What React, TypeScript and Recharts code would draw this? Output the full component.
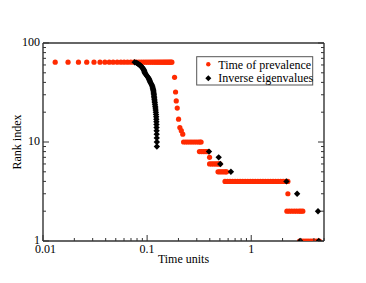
import { ScatterChart, Scatter, XAxis, YAxis } from "recharts";

// Time of prevalence: one rank level, and the times plotted on it
const prevalenceRanks = [64, 45, 32, 26, 22, 17, 14, 13, 12, 10, 8, 7, 6, 5, 4, 3, 2, 1];
const prevalenceTimes = [
  [0.0131, 0.0174, 0.0219, 0.0263, 0.0309, 0.0353, 0.0393, 0.0433, 0.0472, 0.0516, 0.056, 0.0602,
   0.0648, 0.0697, 0.0746, 0.079, 0.0835, 0.088, 0.0925, 0.097, 0.1015, 0.106, 0.1105, 0.115,
   0.1195, 0.124, 0.1285, 0.133, 0.1375, 0.142, 0.1465, 0.151, 0.1555, 0.16, 0.1645, 0.169, 0.173],
  [0.1835], [0.1876], [0.1905], [0.1947], [0.2004], [0.2063], [0.213], [0.22],
  [0.224, 0.235, 0.246, 0.258, 0.27, 0.283, 0.296, 0.31, 0.322, 0.33],
  [0.318, 0.332, 0.346, 0.36, 0.374, 0.387],
  [0.398],
  [0.398, 0.415, 0.432, 0.45, 0.468, 0.485, 0.5],
  [0.48, 0.497, 0.514, 0.532, 0.55, 0.568, 0.58],
  [0.56, 0.592, 0.626, 0.662, 0.7, 0.74, 0.783, 0.828, 0.876, 0.926, 0.98, 1.036, 1.095, 1.158,
   1.225, 1.296, 1.37, 1.449, 1.532, 1.62, 1.714, 1.812, 1.917, 2.027, 2.144, 2.25],
  [2.25],
  [2.2, 2.32, 2.45, 2.59, 2.73, 2.88, 3.0, 3.13],
  [2.91, 3.05, 3.2, 3.36, 3.52, 3.7, 3.88, 4.07, 4.28, 4.52],
];

// Inverse eigenvalues
const eigenRanks = [
  64, 63, 62, 61, 60, 59, 58, 57, 56, 55, 54, 53, 52, 51, 50, 49, 48, 47, 46, 45, 44, 43, 42, 41, 40,
  39, 38, 37, 36, 35, 34, 33, 32, 31, 30, 29, 28, 27, 26, 25, 24, 23, 22, 21, 20, 19, 18, 17, 16, 15,
  14, 13, 12, 11, 10, 9, 8, 7, 6, 5, 4, 3, 2, 1, 1,
];
const eigenTimes = [
  0.076, 0.079, 0.081, 0.083, 0.085, 0.0865, 0.088, 0.0895, 0.0905, 0.0915, 0.0925, 0.0932, 0.094,
  0.0945, 0.095, 0.096, 0.0975, 0.099, 0.1005, 0.102, 0.1035, 0.1045, 0.1055, 0.1065, 0.1075,
  0.109, 0.1105, 0.1115, 0.1128, 0.1135, 0.1142, 0.1148, 0.1153, 0.1158, 0.1162, 0.1166, 0.117,
  0.1175, 0.118, 0.1185, 0.119, 0.1196, 0.1202, 0.1208, 0.1213, 0.1218, 0.1223, 0.1226, 0.1228,
  0.123, 0.1232, 0.1234, 0.1236, 0.1238, 0.124, 0.1241, 0.393, 0.487, 0.505, 0.638, 2.18, 2.76,
  4.38, 2.95, 4.45,
];

const xTicks = [0.01, 0.02, 0.03, 0.04, 0.05, 0.06, 0.07, 0.08, 0.09, 0.1, 0.2, 0.3, 0.4, 0.5, 0.6,
  0.7, 0.8, 0.9, 1, 2, 3, 4, 5];
const xTickLabels: Record<string, string> = { "0.01": "0.01", "0.1": "0.1", "1": "1" };
const yTicks = [1, 2, 3, 4, 5, 6, 7, 8, 9, 10, 20, 30, 40, 50, 60, 70, 80, 90, 100];
const yTickLabels: Record<string, string> = { "1": "1", "10": "10", "100": "100" };

const RED = "#ff2a00";
const AXIS = "#333";
const FONT = "'Liberation Serif', 'Times New Roman', serif";

const prevalenceData = prevalenceRanks.flatMap((r, i) => prevalenceTimes[i].map(t => ({ t, r })));
const eigenData = eigenRanks.map((r, i) => ({ t: eigenTimes[i], r }));

const Dot = ({ cx, cy }: any) => <circle cx={cx} cy={cy} r={2.6} fill={RED} />;
const Diamond = ({ cx, cy }: any) => (
  <path d={`M${cx},${cy - 3.2}L${cx + 3.2},${cy}L${cx},${cy + 3.2}L${cx - 3.2},${cy}Z`} fill="#000" />
);

const tickText = { fontFamily: FONT, fontSize: 12, fill: "#000" };

const BottomTick = ({ x, y, payload }: any) => {
  const lab = xTickLabels[String(payload.value)];
  // first label sits a little right of its tick, as in the original
  const dx = payload.value === 0.01 ? 2.5 : 0;
  return (
    <g>
      <line x1={x} x2={x} y1={y} y2={y - (lab ? 6 : 3)} stroke={AXIS} />
      {lab && <text x={x + dx} y={y + 12} textAnchor="middle" {...tickText}>{lab}</text>}
    </g>
  );
};
const TopTick = ({ x, y, payload }: any) => {
  const major = !!xTickLabels[String(payload.value)];
  return <line x1={x} x2={x} y1={y} y2={y + (major ? 6 : 3)} stroke={AXIS} />;
};
const LeftTick = ({ x, y, payload }: any) => {
  const lab = yTickLabels[String(payload.value)];
  return (
    <g>
      <line x1={x} x2={x + (lab ? 6 : 3)} y1={y} y2={y} stroke={AXIS} />
      {lab && <text x={x - 3} y={y + 3} textAnchor="end" {...tickText}>{lab}</text>}
    </g>
  );
};
const RightTick = ({ x, y, payload }: any) => {
  const major = !!yTickLabels[String(payload.value)];
  return <line x1={x} x2={x - (major ? 6 : 3)} y1={y} y2={y} stroke={AXIS} />;
};

export default function App() {
  const axisLine = { stroke: AXIS, strokeWidth: 1.4 };
  return (
    <div style={{ position: "absolute", left: 0, top: 0, width: 366, height: 283, background: "#fff" }}>
      <ScatterChart width={366} height={283} margin={{ top: 42, right: 41, bottom: 41, left: 42 }}>
        <XAxis xAxisId="b" dataKey="t" type="number" scale="log" domain={[0.01, 5]} allowDataOverflow
          ticks={xTicks} interval={0} tickSize={0} tickMargin={0} height={1} axisLine={axisLine} tickLine={false}
          tick={<BottomTick />} />
        <XAxis xAxisId="top" orientation="top" type="number" scale="log" domain={[0.01, 5]} allowDataOverflow
          ticks={xTicks} interval={0} tickSize={0} tickMargin={0} height={1} axisLine={axisLine} tickLine={false}
          tick={<TopTick />} />
        <YAxis yAxisId="l" dataKey="r" type="number" scale="log" domain={[1, 100]} allowDataOverflow
          ticks={yTicks} interval={0} tickSize={0} tickMargin={0} width={1} axisLine={axisLine} tickLine={false}
          tick={<LeftTick />} />
        <YAxis yAxisId="right" orientation="right" type="number" scale="log" domain={[1, 100]} allowDataOverflow
          ticks={yTicks} interval={0} tickSize={0} tickMargin={0} width={1} axisLine={axisLine} tickLine={false}
          tick={<RightTick />} />
        <Scatter name="Time of prevalence" data={prevalenceData} xAxisId="b" yAxisId="l" shape={<Dot />} isAnimationActive={false} />
        <Scatter name="Inverse eigenvalues" data={eigenData} xAxisId="b" yAxisId="l" shape={<Diamond />} isAnimationActive={false} />
      </ScatterChart>
      <svg width={366} height={283} style={{ position: "absolute", left: 0, top: 0, pointerEvents: "none" }}>
        <text x={20.5} y={142} transform="rotate(-90 20.5 142)" textAnchor="middle" {...tickText}>Rank index</text>
        <text x={183.5} y={263} textAnchor="middle" {...tickText}>Time units</text>
        <rect x={196.7} y={56.7} width={116} height={28.3} fill="#fff" stroke="#555" strokeWidth={1} />
        <circle cx={208.3} cy={64.3} r={2.2} fill={RED} />
        <path d="M208.3,75.3L211.3,78.3L208.3,81.3L205.3,78.3Z" fill="#000" />
        <text x={218.3} y={68.5} {...tickText}>Time of prevalence</text>
        <text x={218.3} y={82.3} {...tickText}>Inverse eigenvalues</text>
      </svg>
    </div>
  );
}
